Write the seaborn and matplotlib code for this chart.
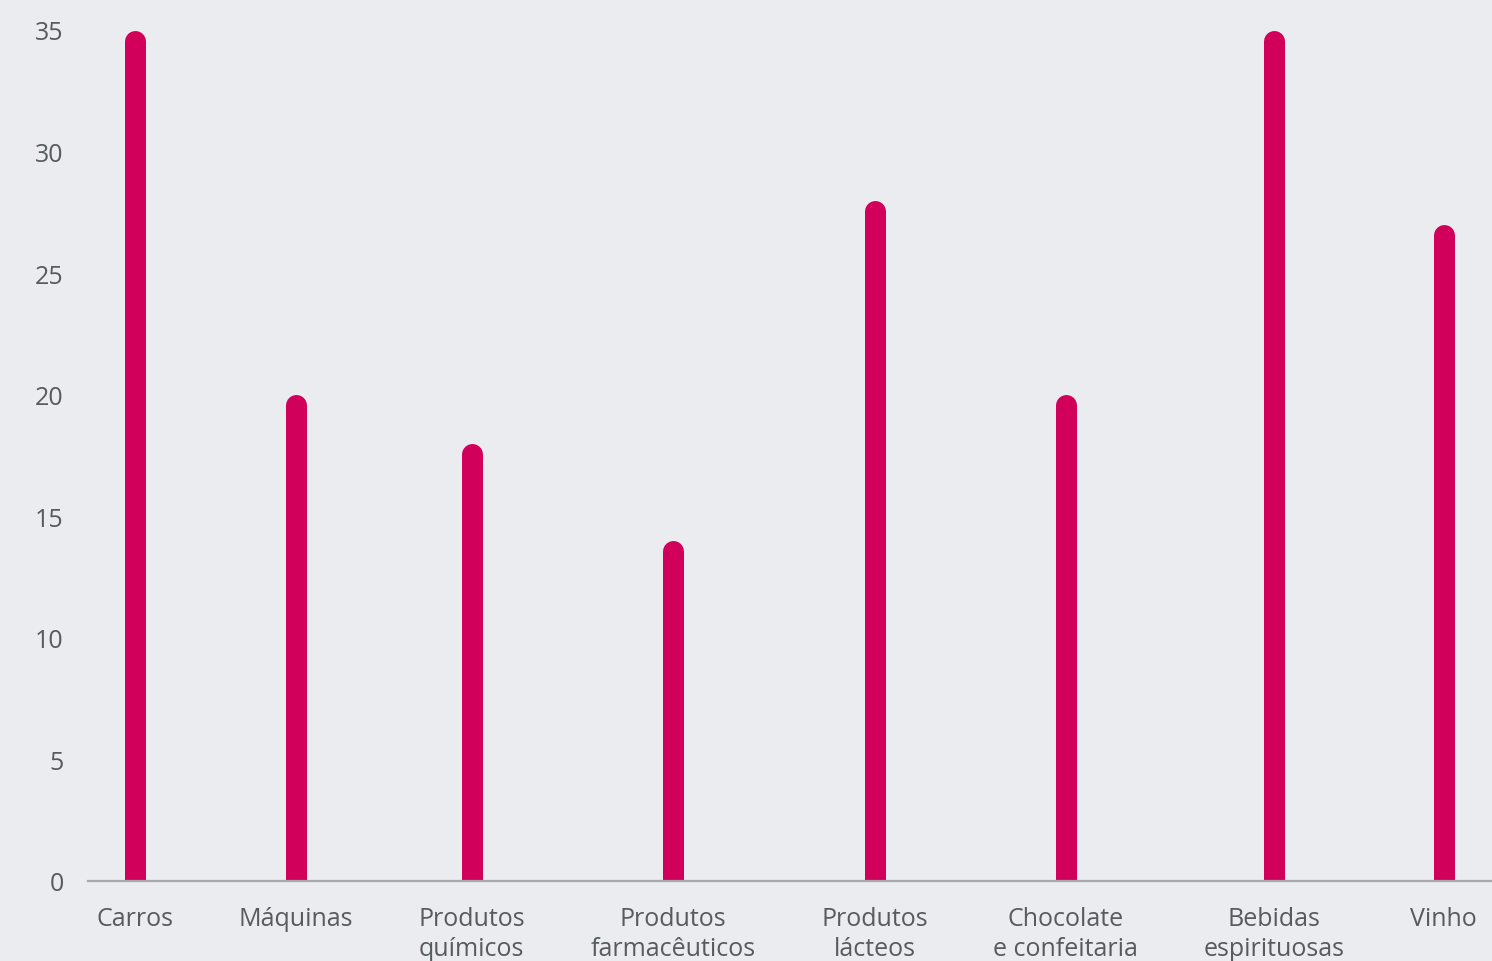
import matplotlib
matplotlib.use("Agg")
import matplotlib.pyplot as plt
import seaborn as sns
import pandas as pd
import numpy as np

# ---- data ----
categories = ["Carros", "Máquinas", "Produtos\nquímicos", "Produtos\nfarmacêuticos",
              "Produtos\nlácteos", "Chocolate\ne confeitaria", "Bebidas\nespirituosas", "Vinho"]
values = [35, 20, 18, 14, 28, 20, 35, 27]
yticks = [0, 5, 10, 15, 20, 25, 30, 35]

# ---- style ----
BG = "#EBECF0"
BAR = "#D1005B"
TXT = "#555B5E"
AXIS = "#A9A9AB"
FONT = ["Open Sans", "DejaVu Sans"]
FS = 18

sns.set_theme(style="white")
plt.rcParams["font.family"] = FONT

W, H, DPI = 1492, 962, 100
fig = plt.figure(figsize=(W / DPI, H / DPI), dpi=DPI, facecolor=BG)
ax_left_px, ax_bottom_px = 88, 882
ax = fig.add_axes([ax_left_px / W, (H - ax_bottom_px) / H, 1 - ax_left_px / W, ax_bottom_px / H])
ax.set_facecolor(BG)

axis_w_px = W - ax_left_px
px_per_unit = (882 - 31) / 35.0
ymax = ax_bottom_px / px_per_unit

# measure label widths (px) to lay categories out like the original (slot widths follow labels)
renderer = fig.canvas.get_renderer()
widths = []
for c in categories:
    t = fig.text(0, 0, c, fontsize=FS, family=FONT, ha="center", multialignment="center")
    widths.append(t.get_window_extent(renderer).width)
    t.remove()
widths = np.array(widths)
pad_l, pad_r = 8.0, 15.0
gap = (axis_w_px - pad_l - pad_r - widths.sum()) / (len(categories) - 1)
centers = pad_l + np.cumsum(widths) - widths / 2 + gap * np.arange(len(categories))

df = pd.DataFrame({"pos": centers, "value": values, "cat": categories})
sns.barplot(data=df, x="pos", y="value", native_scale=True, color=BAR, ax=ax,
            width=0.1, saturation=1, errorbar=None)

ax.set_xlim(0, axis_w_px)
ax.set_ylim(0, ymax)

# redraw each bar as a thick stroke with a round top cap (cap top == value)
bar_w_px = 21.0
r_units = (bar_w_px / 2) / px_per_unit
old = list(ax.patches)
for p in old:
    cx = p.get_x() + p.get_width() / 2
    h = p.get_height()
    p.remove()
    ax.plot([cx, cx], [-1.0, h - r_units], color=BAR, lw=bar_w_px * 72 / DPI,
            solid_capstyle="round", zorder=2)

ax.set_xticks(centers)
ax.set_xticklabels(categories, fontsize=FS, color=TXT, linespacing=1.25)
ax.set_yticks(yticks)
ax.set_yticklabels([str(v) for v in yticks], fontsize=FS, color=TXT)
ax.tick_params(axis="both", length=0)
ax.tick_params(axis="x", pad=18)
ax.tick_params(axis="y", pad=17.5)
ax.set_xlabel("")
ax.set_ylabel("")
for s in ["top", "right", "left"]:
    ax.spines[s].set_visible(False)
ax.spines["bottom"].set_color(AXIS)
ax.spines["bottom"].set_linewidth(1.6)
ax.spines["bottom"].set_zorder(3)
ax.grid(False)

fig.savefig("out.png", dpi=DPI, facecolor=BG)
